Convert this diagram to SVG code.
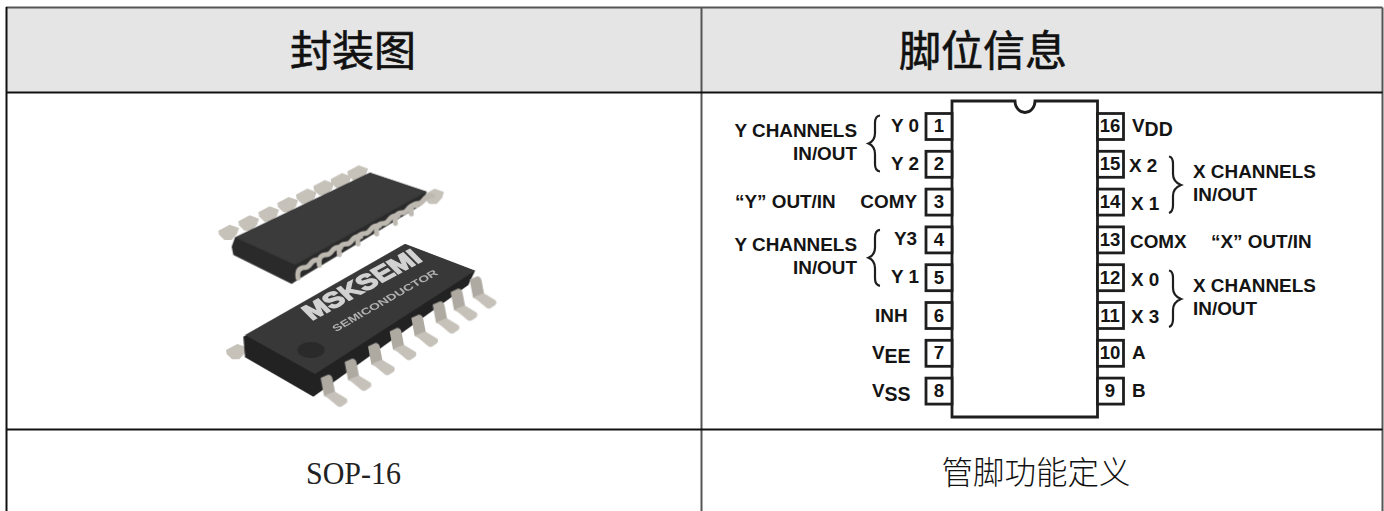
<svg xmlns="http://www.w3.org/2000/svg" xmlns:xlink="http://www.w3.org/1999/xlink" width="1384" height="511" viewBox="0 0 1384 511">
<style>
.l{font:bold 18.9px "Liberation Sans",Arial,sans-serif;fill:#141414}
.s{font:bold 18.6px "Liberation Sans",Arial,sans-serif;fill:#141414}
.sub{font-size:19.5px}
.n{text-anchor:middle}
.e{text-anchor:end}
.pin{fill:#fff;stroke:#1e1e1e;stroke-width:2.8}
.brace{fill:none;stroke:#1e1e1e;stroke-width:2.2}
.grid{stroke:#555;stroke-width:2;fill:none}
.gridk{stroke:#111;stroke-width:2;fill:none}
.cjk{font-family:"Noto Sans CJK SC","Liberation Sans",sans-serif;fill:#111}
.leg{fill:#aeaaa2}
.foot{fill:#c6c2ba}
.wave{fill:none;stroke:#bdb9b1;stroke-width:15;stroke-linejoin:round;stroke-linecap:round}
</style>
<defs>
<filter id="soft" x="-5%" y="-5%" width="110%" height="110%"><feGaussianBlur stdDeviation="1.5"/></filter>
<g id="gull"><path class="leg" d="M-16,-6 L6,-16 Q18,-16 20,-2 L28,40 L8,54 L-6,48 Z"/><path class="foot" d="M-4,46 L26,34 L62,56 Q68,66 58,72 L46,80 Q38,82 32,76 Z"/></g>
<path id="tab" class="foot" d="M-30,2 L4,-16 L32,-6 L26,12 L10,30 L-12,30 L-28,14 Z"/>
<path id="wave" class="wave" d="M0,34 C-4,8 8,2 22,2 C38,2 36,-18 54,-20 L64,-20"/>
</defs>

<rect x="6" y="8" width="1376" height="84.5" fill="#e5e5e5"/>

<g id="table">
<path class="grid" d="M6,7.500H1382.500M701.500,7.500V511M1382.500,7.500V511"/>
<path class="gridk" d="M6.500,7V511M6,92.500H1382.500M6,429.500H1382.500"/>
</g>

<g id="header-left"><text class="cjk" x="353" y="66" font-size="42" text-anchor="middle" stroke="#111" stroke-width=".6">封装图</text></g>
<g id="header-right"><text class="cjk" x="983" y="66" font-size="42" text-anchor="middle" stroke="#111" stroke-width=".6">脚位信息</text></g>
<g id="caption-left"><text x="306" y="484" font-family="Liberation Serif,serif" font-size="32" fill="#222" textLength="95" lengthAdjust="spacingAndGlyphs">SOP-16</text></g>
<g id="caption-right"><text class="cjk" x="1036" y="484" font-size="31.500" font-weight="300" text-anchor="middle">管脚功能定义</text></g>

<g id="package-photo" transform="translate(200 150) scale(.33333)">
<g filter="url(#soft)">
<g id="upper-chip">
<use xlink:href="#tab" x="85" y="240"/><use xlink:href="#tab" x="145" y="212"/><use xlink:href="#tab" x="205" y="185"/><use xlink:href="#tab" x="262" y="157"/><use xlink:href="#tab" x="318" y="132"/><use xlink:href="#tab" x="370" y="106"/><use xlink:href="#tab" x="422" y="85"/><use xlink:href="#tab" x="472" y="62"/><use xlink:href="#tab" x="700" y="132"/>
<path d="M95,290 L105,262 L510,68 L680,125 L665,165 L300,385 L275,402 L100,315 Z" fill="#2b2b2b"/>
<path d="M105,262 L510,68 L680,125 L285,345 Z" fill="#3a3a3a"/>
<use xlink:href="#wave" x="294" y="350"/><use xlink:href="#wave" x="358" y="312"/><use xlink:href="#wave" x="418" y="280"/><use xlink:href="#wave" x="474" y="248"/><use xlink:href="#wave" x="530" y="218"/><use xlink:href="#wave" x="586" y="186"/><use xlink:href="#wave" x="634" y="158"/>
</g>
<g id="lower-chip">
<use xlink:href="#tab" x="108" y="598"/>
<path d="M130,560 L615,282 L825,362 L805,405 L340,740 L135,622 Z" fill="#242424"/>
<path d="M135,555 L615,282 L825,362 L345,672 Z" fill="#383838"/>
<ellipse cx="333" cy="600" rx="41" ry="24" fill="#2a2a2a"/>
<use xlink:href="#gull" x="378" y="690"/><use xlink:href="#gull" x="450" y="642"/><use xlink:href="#gull" x="520" y="595"/><use xlink:href="#gull" x="585" y="550"/><use xlink:href="#gull" x="650" y="510"/><use xlink:href="#gull" x="714" y="470"/><use xlink:href="#gull" x="768" y="432"/><use xlink:href="#gull" x="825" y="395"/>
</g>
</g>
<text x="0" y="0" transform="matrix(.87 -.47 .62 .62 335 512)" font-family="Liberation Sans,sans-serif" font-weight="bold" font-size="84" fill="#d2d2d2" stroke="#d2d2d2" stroke-width="5" textLength="385" lengthAdjust="spacingAndGlyphs">MSKSEMI</text>
<text x="0" y="0" transform="matrix(.87 -.49 .6 .6 408 546)" font-family="Liberation Sans,sans-serif" font-weight="bold" font-size="36" fill="#b0b0b0" textLength="355" lengthAdjust="spacingAndGlyphs">SEMICONDUCTOR</text>
</g>

<g id="ic-body"><path d="M952,101H1015A10,11.500 0 0 0 1035,101H1097.500V417H952Z" fill="#fff" stroke="#1e1e1e" stroke-width="2.800"/></g>

<g id="pins-left">
<g id="pin1"><rect class="pin" x="926" y="113.500" width="26" height="26"/><text class="s n" x="939" y="132">1</text></g>
<g id="pin2"><rect class="pin" x="926" y="151.300" width="26" height="26"/><text class="s n" x="939" y="170">2</text></g>
<g id="pin3"><rect class="pin" x="926" y="189.100" width="26" height="26"/><text class="s n" x="939" y="208">3</text></g>
<g id="pin4"><rect class="pin" x="926" y="226.900" width="26" height="26"/><text class="s n" x="939" y="246">4</text></g>
<g id="pin5"><rect class="pin" x="926" y="264.700" width="26" height="26"/><text class="s n" x="939" y="284">5</text></g>
<g id="pin6"><rect class="pin" x="926" y="302.500" width="26" height="26"/><text class="s n" x="939" y="321.500">6</text></g>
<g id="pin7"><rect class="pin" x="926" y="340.300" width="26" height="26"/><text class="s n" x="939" y="359">7</text></g>
<g id="pin8"><rect class="pin" x="926" y="378.100" width="26" height="26"/><text class="s n" x="939" y="397">8</text></g>
</g>
<g id="pins-right">
<g id="pin16"><rect class="pin" x="1097.500" y="113.500" width="26" height="26"/><text class="s n" x="1110" y="132">16</text></g>
<g id="pin15"><rect class="pin" x="1097.500" y="151.300" width="26" height="26"/><text class="s n" x="1110" y="170">15</text></g>
<g id="pin14"><rect class="pin" x="1097.500" y="189.100" width="26" height="26"/><text class="s n" x="1110" y="208">14</text></g>
<g id="pin13"><rect class="pin" x="1097.500" y="226.900" width="26" height="26"/><text class="s n" x="1110" y="245.500">13</text></g>
<g id="pin12"><rect class="pin" x="1097.500" y="264.700" width="26" height="26"/><text class="s n" x="1110" y="284">12</text></g>
<g id="pin11"><rect class="pin" x="1097.500" y="302.500" width="26" height="26"/><text class="s n" x="1110" y="321.500">11</text></g>
<g id="pin10"><rect class="pin" x="1097.500" y="340.300" width="26" height="26"/><text class="s n" x="1110" y="359">10</text></g>
<g id="pin9"><rect class="pin" x="1097.500" y="378.100" width="26" height="26"/><text class="s n" x="1110" y="397">9</text></g>
</g>

<g id="connectors">
<path class="brace" d="M880,115.500C876,116 875,119 875,123V133C875,139 872,142 868.500,143.500C872,145 875,148 875,154V164C875,168 876,171 880,171.500"/>
<path class="brace" d="M880,229.800C876,230.300 875,233.300 875,237.300V247.300C875,253.300 872,256.300 868.500,257.800C872,259.300 875,262.300 875,268.300V278.300C875,282.300 876,285.300 880,285.800"/>
<path class="brace" d="M1169,156.500C1172,157 1173,160 1173,164V174C1173,180 1176,183 1181,185C1176,187 1173,190 1173,196V205C1173,209 1172,212 1169,213"/>
<path class="brace" d="M1169,270.500C1172,271 1173,274 1173,278V288C1173,294 1176,297 1181,299C1176,301 1173,304 1173,310V319C1173,323 1172,326 1169,327"/>
</g>

<g id="labels-left">
<text class="l e" x="857" y="137">Y CHANNELS</text>
<text class="l e" x="857" y="160">IN/OUT</text>
<text class="l" x="891" y="132">Y 0</text>
<text class="l" x="891" y="170">Y 2</text>
<text class="l" x="735" y="208">“Y” OUT/IN</text>
<text class="l e" x="917" y="208">COMY</text>
<text class="l e" x="857" y="251">Y CHANNELS</text>
<text class="l e" x="857" y="274">IN/OUT</text>
<text class="l e" x="917" y="245">Y3</text>
<text class="l" x="891" y="283">Y 1</text>
<text class="l" x="875" y="322">INH</text>
<text class="l" x="872" y="359">V<tspan class="sub" dy="4">EE</tspan></text>
<text class="l" x="872" y="397">V<tspan class="sub" dy="4">SS</tspan></text>
</g>
<g id="labels-right">
<text class="l" x="1132" y="132">V<tspan class="sub" dy="4">DD</tspan></text>
<text class="l" x="1129" y="172">X 2</text>
<text class="l" x="1131" y="210">X 1</text>
<text class="l" x="1130" y="248">COMX</text>
<text class="l" x="1211" y="248">“X” OUT/IN</text>
<text class="l" x="1131" y="286">X 0</text>
<text class="l" x="1131" y="323">X 3</text>
<text class="l" x="1132" y="359">A</text>
<text class="l" x="1132" y="397">B</text>
<text class="l" x="1193" y="178">X CHANNELS</text>
<text class="l" x="1193" y="201">IN/OUT</text>
<text class="l" x="1193" y="292">X CHANNELS</text>
<text class="l" x="1193" y="315">IN/OUT</text>
</g>
</svg>
